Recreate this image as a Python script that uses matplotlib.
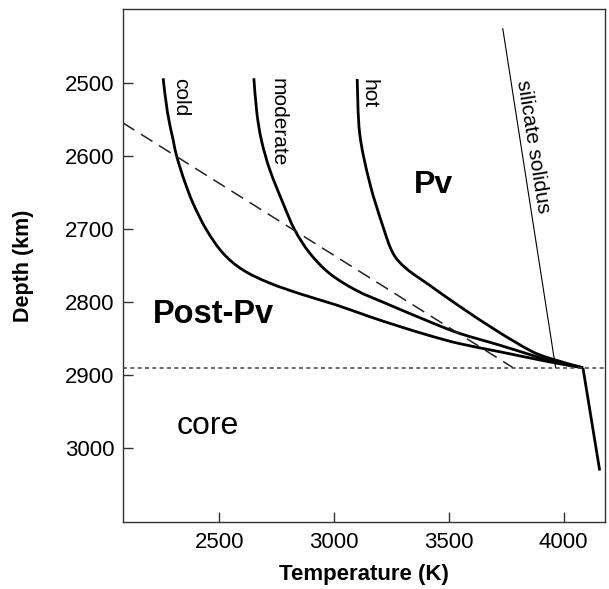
import matplotlib
matplotlib.use('Agg')
import matplotlib.pyplot as plt
from matplotlib.path import Path
from matplotlib.patches import PathPatch

plt.rcParams['font.family'] = ['Liberation Sans', 'DejaVu Sans']

# --- Geotherms (temperature in K, depth in km) ---
cold_T = [2256, 2275, 2300, 2315, 2348, 2387, 2445, 2517, 2604, 2721, 2866,
          3011, 3156, 3272, 3417, 3548, 3721, 3939, 4084]
cold_D = [2493, 2540, 2578, 2600, 2633, 2665, 2701, 2733, 2756, 2774, 2790,
          2804, 2820, 2832, 2846, 2857, 2868, 2882, 2890]

moderate_T = [2651, 2664, 2684, 2721, 2779, 2829, 2895, 2982, 3098, 3228,
              3417, 3548, 3721, 3939, 4084]
moderate_D = [2493, 2540, 2578, 2619, 2665, 2701, 2733, 2761, 2784, 2802,
              2827, 2843, 2859, 2880, 2890]

hot_T = [3101, 3112, 3156, 3214, 3257, 3315, 3417, 3548, 3707, 3852, 3939, 4084]
hot_D = [2494, 2569, 2637, 2697, 2733, 2754, 2777, 2806, 2839, 2866, 2877, 2890]

core_T = [4084, 4157]
core_D = [2890, 3031]

solidus_T = [3735, 3965]
solidus_D = [2425, 2890]

# Pv -> post-Pv phase boundary
boundary_T = [2080, 3780]
boundary_D = [2554, 2890]

cmb_depth = 2890

x_ticks = [2500, 3000, 3500, 4000]
y_ticks = [2500, 2600, 2700, 2800, 2900, 3000]


def smooth_path(xs, ys):
    # Catmull-Rom through the read points, drawn as cubic Bezier segments
    pts = list(zip(xs, ys))
    n = len(pts)
    verts = [pts[0]]
    codes = [Path.MOVETO]
    for i in range(n - 1):
        p0 = pts[i - 1] if i > 0 else pts[i]
        p1 = pts[i]
        p2 = pts[i + 1]
        p3 = pts[i + 2] if i + 2 < n else pts[i + 1]
        c1 = (p1[0] + (p2[0] - p0[0]) / 6, p1[1] + (p2[1] - p0[1]) / 6)
        c2 = (p2[0] - (p3[0] - p1[0]) / 6, p2[1] - (p3[1] - p1[1]) / 6)
        verts += [c1, c2, p2]
        codes += [Path.CURVE4] * 3
    return Path(verts, codes)


# --- Figure ---
fig = plt.figure(figsize=(6.09, 5.89), dpi=100)
ax = fig.add_axes([0.2015, 0.1132, 0.7919, 0.8715])

for T, D in [(cold_T, cold_D), (moderate_T, moderate_D), (hot_T, hot_D)]:
    ax.add_patch(PathPatch(smooth_path(T, D), fill=False, ec='black', lw=2.0,
                           capstyle='butt', joinstyle='round'))
ax.plot(core_T, core_D, color='black', lw=2.0, solid_capstyle='butt')

ax.plot(solidus_T, solidus_D, color='black', lw=0.8)
ax.plot(boundary_T, boundary_D, color='#222222', lw=1.1, dashes=(9, 5))
ax.axhline(cmb_depth, color='#444444', lw=1.1, dashes=(2.6, 2.2))

# curve labels
ax.text(2331, 2493, 'cold', rotation=270, ha='center', va='top', fontsize=15)
ax.text(2757, 2493, 'moderate', rotation=270, ha='center', va='top', fontsize=15)
ax.text(3151, 2494, 'hot', rotation=270, ha='center', va='top', fontsize=15)
ax.text(3866, 2587, 'silicate solidus', rotation=-81, ha='center', va='center',
        fontsize=15, rotation_mode='anchor')

# region labels
ax.text(3431, 2651, 'Pv', ha='center', va='baseline', fontsize=23, fontweight='bold')
ax.text(2474, 2829, 'Post-Pv', ha='center', va='baseline', fontsize=23.5, fontweight='bold')
ax.text(2452, 2981, 'core', ha='center', va='baseline', fontsize=23)

ax.set_xlim(2080, 4180)
ax.set_ylim(3102, 2398)
ax.set_xticks(x_ticks)
ax.set_yticks(y_ticks)
ax.tick_params(axis='both', direction='in', length=7, width=1, labelsize=16,
               colors='#333333', labelcolor='black')
ax.tick_params(axis='x', pad=7)
ax.tick_params(axis='y', pad=6)
for s in ax.spines.values():
    s.set_color('#333333')
    s.set_linewidth(1.0)

ax.set_xlabel('Temperature (K)', fontsize=16, fontweight='bold', labelpad=8)
ax.set_ylabel('Depth (km)', fontsize=15.5, fontweight='bold', labelpad=22)

fig.savefig('out.png', dpi=100)
